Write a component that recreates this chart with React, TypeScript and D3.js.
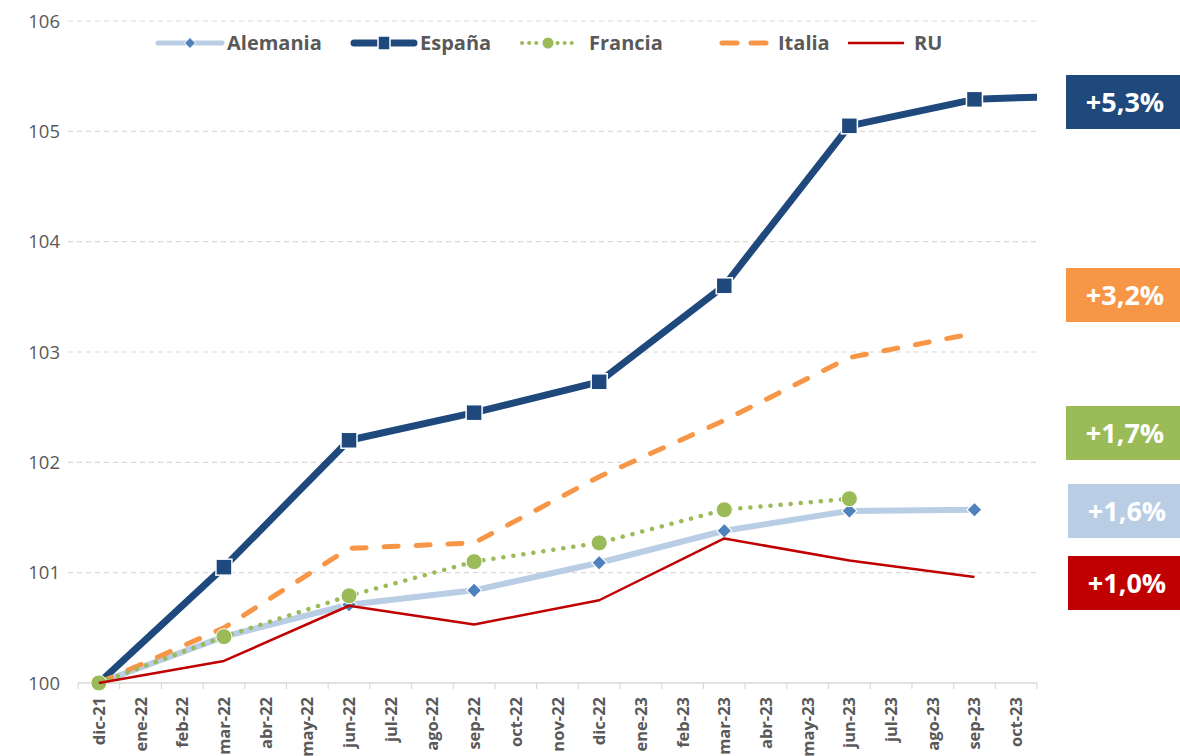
import React from "react";
import * as d3 from "d3";

const categories = [
  "dic-21","ene-22","feb-22","mar-22","abr-22","may-22","jun-22","jul-22","ago-22","sep-22","oct-22","nov-22",
  "dic-22","ene-23","feb-23","mar-23","abr-23","may-23","jun-23","jul-23","ago-23","sep-23","oct-23",
];
// quarterly observation indices (dic-21, mar-22, jun-22, sep-22, dic-22, mar-23, jun-23, sep-23, ...)
const quarterIdx = [0, 3, 6, 9, 12, 15, 18, 21, 24];

const alemania = [100, 100.42, 100.71, 100.84, 101.09, 101.38, 101.56, 101.57];
const espana = [100, 101.05, 102.2, 102.45, 102.73, 103.6, 105.05, 105.29, 105.33];
const francia = [100, 100.42, 100.79, 101.1, 101.27, 101.57, 101.67];
const italia = [100, 100.5, 101.22, 101.27, 101.87, 102.38, 102.95, 103.17];
const ru = [100, 100.2, 100.7, 100.53, 100.75, 101.31, 101.11, 100.96];

const yTicks = [100, 101, 102, 103, 104, 105, 106];

const seriesNames = ["Alemania", "España", "Francia", "Italia", "RU"];
const changeLabels = ["+1,6%", "+5,3%", "+1,7%", "+3,2%", "+1,0%"];

const COLORS = {
  alemaniaLine: "#B9CDE5",
  alemaniaMark: "#4F81BD",
  espana: "#1F497D",
  francia: "#9BBB59",
  italia: "#F79646",
  ru: "#C00000",
};

const W = 1180;
const H = 756;
const X0 = 78;
const X1 = 1037;
const FONT = "'Open Sans', sans-serif";
const TXT = "#595959";

export default function App() {
  const n = categories.length;
  const xIdx = d3.scaleLinear().domain([0, n]).range([X0, X1]);
  const xc = (i: number) => xIdx(i + 0.5);
  const y = d3.scaleLinear().domain([100, 106]).range([683, 21]);

  const toPts = (vals: number[]) => vals.map((v, k) => [xc(quarterIdx[k]), y(v)] as [number, number]);
  const line = d3.line();

  const pA = toPts(alemania);
  const pE = toPts(espana);
  const pF = toPts(francia);
  const pI = toPts(italia);
  const pR = toPts(ru);

  const sq = 16;
  const diamond = (cx: number, cy: number, r: number) =>
    `M${cx},${cy - r}L${cx + r},${cy}L${cx},${cy + r}L${cx - r},${cy}Z`;

  const boxes = [
    { label: changeLabels[1], color: COLORS.espana, top: 75, x: 1066 },
    { label: changeLabels[3], color: COLORS.italia, top: 268, x: 1066 },
    { label: changeLabels[2], color: COLORS.francia, top: 406, x: 1066 },
    { label: changeLabels[0], color: COLORS.alemaniaLine, top: 484, x: 1068 },
    { label: changeLabels[4], color: COLORS.ru, top: 556, x: 1068 },
  ];

  const legendY = 43;
  const legend = [
    { name: seriesNames[0], x: 158, tx: 227, kind: "A" },
    { name: seriesNames[1], x: 352, tx: 420, kind: "E" },
    { name: seriesNames[2], x: 522, tx: 589, kind: "F" },
    { name: seriesNames[3], x: 719, tx: 778, kind: "I" },
    { name: seriesNames[4], x: 848, tx: 914, kind: "R" },
  ];

  return (
    <div style={{ position: "absolute", left: 0, top: 0 }}>
      <svg width={W} height={H} style={{ display: "block", fontFamily: FONT }}>
        <defs>
          <clipPath id="plotclip">
            <rect x={X0 - 20} y={0} width={X1 - X0 + 20} height={H} />
          </clipPath>
        </defs>
        <rect width={W} height={H} fill="#fff" />
        {/* grid */}
        {yTicks.map((t) => (
          <g key={t}>
            {t !== 100 && (
              <line x1={68} x2={X1} y1={y(t)} y2={y(t)} stroke="#D9D9D9" strokeWidth={1.2} strokeDasharray="5 4" />
            )}
            <text x={60} y={y(t)} dy="0.36em" textAnchor="end" fontSize={18.5} fill={TXT}>
              {t}
            </text>
          </g>
        ))}
        {/* x axis */}
        <line x1={X0} x2={X1} y1={683} y2={683} stroke="#D9D9D9" strokeWidth={1.5} />
        {d3.range(n + 1).map((k) => (
          <line key={k} x1={xIdx(k)} x2={xIdx(k)} y1={683} y2={689} stroke="#D9D9D9" strokeWidth={1.2} />
        ))}
        {categories.map((c, i) => (
          <text
            key={c}
            transform={`translate(${xc(i) + 6},${697}) rotate(-90)`}
            textAnchor="end"
            fontSize={16.5}
            fontWeight="bold"
            fill={TXT}
          >
            {c}
          </text>
        ))}

        <g clipPath="url(#plotclip)">
          {/* España */}
          <path d={line(pE) || ""} fill="none" stroke={COLORS.espana} strokeWidth={7} strokeLinejoin="round" />
          {pE.slice(1, 8).map(([px, py], k) => (
            <rect
              key={k}
              x={px - sq / 2}
              y={py - sq / 2}
              width={sq}
              height={sq}
              fill={COLORS.espana}
              stroke="#fff"
              strokeWidth={1.5}
            />
          ))}
          {/* Alemania */}
          <path d={line(pA) || ""} fill="none" stroke={COLORS.alemaniaLine} strokeWidth={6} strokeLinejoin="round" />
          {pA.map(([px, py], k) => (
            <path key={k} d={diamond(px, py, 7.5)} fill={COLORS.alemaniaMark} stroke="#fff" strokeWidth={1.2} />
          ))}
          {/* Italia */}
          <path
            d={line(pI) || ""}
            fill="none"
            stroke={COLORS.italia}
            strokeWidth={5}
            strokeDasharray="14 18"
            strokeLinecap="round"
            strokeLinejoin="round"
          />
          {/* Francia */}
          <path
            d={line(pF) || ""}
            fill="none"
            stroke={COLORS.francia}
            strokeWidth={4.5}
            strokeDasharray="0.1 10"
            strokeLinecap="round"
          />
          {pF.map(([px, py], k) => (
            <circle key={k} cx={px} cy={py} r={8} fill={COLORS.francia} stroke="#fff" strokeWidth={1} />
          ))}
          {/* RU */}
          <path d={line(pR) || ""} fill="none" stroke={COLORS.ru} strokeWidth={2.5} strokeLinejoin="round" />
        </g>

        {/* legend */}
        {legend.map((l) => {
          const lx = l.x;
          let sym: React.ReactNode = null;
          if (l.kind === "A")
            sym = (
              <g>
                <line x1={lx} x2={lx + 64} y1={legendY} y2={legendY} stroke={COLORS.alemaniaLine} strokeWidth={5} strokeLinecap="round" />
                <path d={diamond(lx + 32, legendY, 5.5)} fill={COLORS.alemaniaMark} stroke="#fff" strokeWidth={1} />
              </g>
            );
          else if (l.kind === "E")
            sym = (
              <g>
                <line x1={lx + 2} x2={lx + 62} y1={legendY} y2={legendY} stroke={COLORS.espana} strokeWidth={7} strokeLinecap="round" />
                <rect x={lx + 26} y={legendY - 7} width={12} height={14} fill={COLORS.espana} stroke="#fff" strokeWidth={1.5} />
              </g>
            );
          else if (l.kind === "F")
            sym = (
              <g>
                <line x1={lx} x2={lx + 56} y1={legendY} y2={legendY} stroke={COLORS.francia} strokeWidth={4} strokeDasharray="0.1 7" strokeLinecap="round" />
                <rect x={lx + 19} y={legendY - 6} width={12} height={12} fill="#fff" />
                <circle cx={lx + 26} cy={legendY} r={5.5} fill={COLORS.francia} />
              </g>
            );
          else if (l.kind === "I")
            sym = (
              <g>
                <line x1={lx + 3} x2={lx + 18} y1={legendY} y2={legendY} stroke={COLORS.italia} strokeWidth={5} strokeLinecap="round" />
                <line x1={lx + 32} x2={lx + 47} y1={legendY} y2={legendY} stroke={COLORS.italia} strokeWidth={5} strokeLinecap="round" />
              </g>
            );
          else
            sym = <line x1={lx} x2={lx + 56} y1={legendY} y2={legendY} stroke={COLORS.ru} strokeWidth={2.5} />;
          return (
            <g key={l.name}>
              {sym}
              <text x={l.tx} y={legendY} dy="0.36em" fontSize={20} fontWeight="bold" fill={TXT}>
                {l.name}
              </text>
            </g>
          );
        })}

        {/* right change boxes */}
        {boxes.map((b) => (
          <g key={b.label}>
            <rect x={b.x} y={b.top} width={W - b.x} height={54} fill={b.color} />
            <text
              x={b.x + 59}
              y={b.top + 27}
              dy="0.36em"
              textAnchor="middle"
              fontSize={27}
              fontWeight="bold"
              fill="#fff"
            >
              {b.label}
            </text>
          </g>
        ))}
      </svg>
    </div>
  );
}
